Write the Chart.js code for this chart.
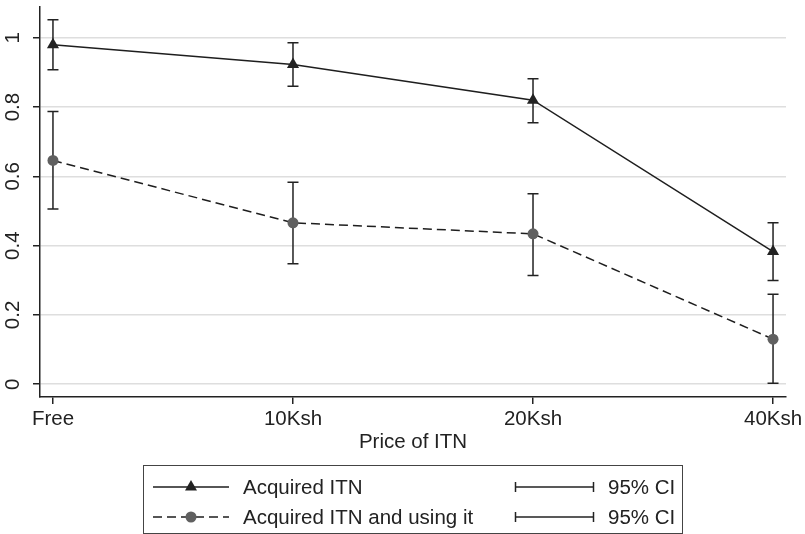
<!DOCTYPE html>
<html>
<head>
<meta charset="utf-8">
<script src="https://cdn.jsdelivr.net/npm/chart.js@4"></script>
<style>
  html, body { margin: 0; padding: 0; background: #fff; }
  #wrap { position: relative; width: 805px; height: 534px; font-family: 'Liberation Sans', Arial, sans-serif; color: #222; }
  #chart { position: absolute; left: 0; top: 0; }
  #legend { position: absolute; left: 143px; top: 465px; width: 538px; height: 67px; border: 1px solid #444; }
  #legend svg { position: absolute; left: 0; top: 0; }
  #legend span { position: absolute; font-size: 20.5px; line-height: 22px; white-space: nowrap; }
</style>
</head>
<body>
<div id="wrap">
  <canvas id="chart" width="805" height="534"></canvas>
  <div id="legend">
    <svg width="538" height="67">
      <line x1="9" y1="21" x2="85" y2="21" stroke="#1e1e1e" stroke-width="1.5"/>
      <polygon points="47,14 53,24.5 41,24.5" fill="#222"/>
      <line x1="9" y1="51" x2="85" y2="51" stroke="#1e1e1e" stroke-width="1.5" stroke-dasharray="9,5"/>
      <circle cx="47" cy="51" r="5.5" fill="#606060"/>
      <line x1="371" y1="21" x2="450" y2="21" stroke="#222" stroke-width="1.5"/>
      <line x1="371.5" y1="16" x2="371.5" y2="26" stroke="#222" stroke-width="1.5"/>
      <line x1="449.5" y1="16" x2="449.5" y2="26" stroke="#222" stroke-width="1.5"/>
      <line x1="371" y1="51" x2="450" y2="51" stroke="#222" stroke-width="1.5"/>
      <line x1="371.5" y1="46" x2="371.5" y2="56" stroke="#222" stroke-width="1.5"/>
      <line x1="449.5" y1="46" x2="449.5" y2="56" stroke="#222" stroke-width="1.5"/>
    </svg>
    <span style="left:99px; top:10px">Acquired ITN</span>
    <span style="left:99px; top:40px">Acquired ITN and using it</span>
    <span style="left:464px; top:10px">95% CI</span>
    <span style="left:464px; top:40px">95% CI</span>
  </div>
</div>
<script>
// ── Data ──────────────────────────────────────────────────────────────────────
const cats     = ['Free', '10Ksh', '20Ksh', '40Ksh'];
const acquired = [0.980, 0.923, 0.820, 0.383];
const acqLo    = [0.908, 0.860, 0.755, 0.299];
const acqHi    = [1.052, 0.986, 0.882, 0.466];
const using    = [0.646, 0.466, 0.434, 0.130];
const useLo    = [0.506, 0.348, 0.314, 0.003];
const useHi    = [0.787, 0.583, 0.550, 0.260];
const yTicks   = [0, 0.2, 0.4, 0.6, 0.8, 1];
const yLabels  = ['0', '0.2', '0.4', '0.6', '0.8', '1'];
const xTitle   = 'Price of ITN';

const FONT = "'Liberation Sans', Arial, sans-serif";
const INK  = '#222';

const pts = vals => vals.map((v, i) => ({ x: i, y: v }));

// error bars + axis labels drawn through the chart's own scales
const extras = {
  id: 'extras',
  beforeDatasetsDraw(chart) {
    const { ctx, scales: { x, y } } = chart;
    ctx.save();
    ctx.strokeStyle = INK;
    ctx.lineWidth = 1.5;
    [[acqLo, acqHi], [useLo, useHi]].forEach(([lo, hi]) => {
      lo.forEach((l, i) => {
        const px = x.getPixelForValue(i);
        const y0 = y.getPixelForValue(l), y1 = y.getPixelForValue(hi[i]);
        ctx.beginPath();
        ctx.moveTo(px, y0); ctx.lineTo(px, y1);
        ctx.moveTo(px - 5.5, y0); ctx.lineTo(px + 5.5, y0);
        ctx.moveTo(px - 5.5, y1); ctx.lineTo(px + 5.5, y1);
        ctx.stroke();
      });
    });
    ctx.restore();
  },
  afterDraw(chart) {
    const { ctx, chartArea, scales: { x, y } } = chart;
    ctx.save();
    ctx.fillStyle = INK;
    ctx.font = '20.5px ' + FONT;
    // y labels, rotated
    ctx.textAlign = 'center';
    ctx.textBaseline = 'middle';
    yTicks.forEach((v, i) => {
      ctx.save();
      ctx.translate(13, y.getPixelForValue(v));
      ctx.rotate(-Math.PI / 2);
      ctx.fillText(yLabels[i], 0, 0);
      ctx.restore();
    });
    // x labels
    ctx.textBaseline = 'alphabetic';
    cats.forEach((c, i) => ctx.fillText(c, x.getPixelForValue(i), 425));
    ctx.fillText(xTitle, (chartArea.left + chartArea.right) / 2, 448);
    ctx.restore();
  }
};

new Chart(document.getElementById('chart'), {
  type: 'line',
  data: {
    datasets: [
      {
        label: 'Acquired ITN',
        data: pts(acquired),
        borderColor: '#1e1e1e',
        borderWidth: 1.5,
        pointStyle: 'triangle',
        pointRadius: 7,
        pointBackgroundColor: INK,
        pointBorderWidth: 0,
        tension: 0
      },
      {
        label: 'Acquired ITN and using it',
        data: pts(using),
        borderColor: '#1e1e1e',
        borderWidth: 1.5,
        borderDash: [9, 5],
        pointStyle: 'circle',
        pointRadius: 5.5,
        pointBackgroundColor: '#606060',
        pointBorderWidth: 0,
        tension: 0
      }
    ]
  },
  options: {
    responsive: false,
    animation: false,
    layout: { padding: { top: 5, right: 19, left: 0, bottom: 0 } },
    plugins: { legend: { display: false }, tooltip: { enabled: false } },
    scales: {
      x: {
        type: 'linear', min: -0.054, max: 3.054,
        afterBuildTicks: s => { s.ticks = cats.map((_, i) => ({ value: i })); },
        afterFit: s => { s.height = 137; },
        ticks: { display: false },
        grid: { drawOnChartArea: false, drawTicks: true, tickLength: 7, tickColor: INK, lineWidth: 1.5 },
        border: { color: INK, width: 1.5 }
      },
      y: {
        type: 'linear', min: -0.037, max: 1.089,
        afterBuildTicks: s => { s.ticks = yTicks.map(v => ({ value: v })); },
        afterFit: s => { s.width = 40; },
        ticks: { display: false },
        grid: { color: '#dedede', lineWidth: 1.5, drawTicks: true, tickLength: 7, tickColor: INK },
        border: { color: INK, width: 1.5 }
      }
    }
  },
  plugins: [extras]
});
</script>
</body>
</html>
